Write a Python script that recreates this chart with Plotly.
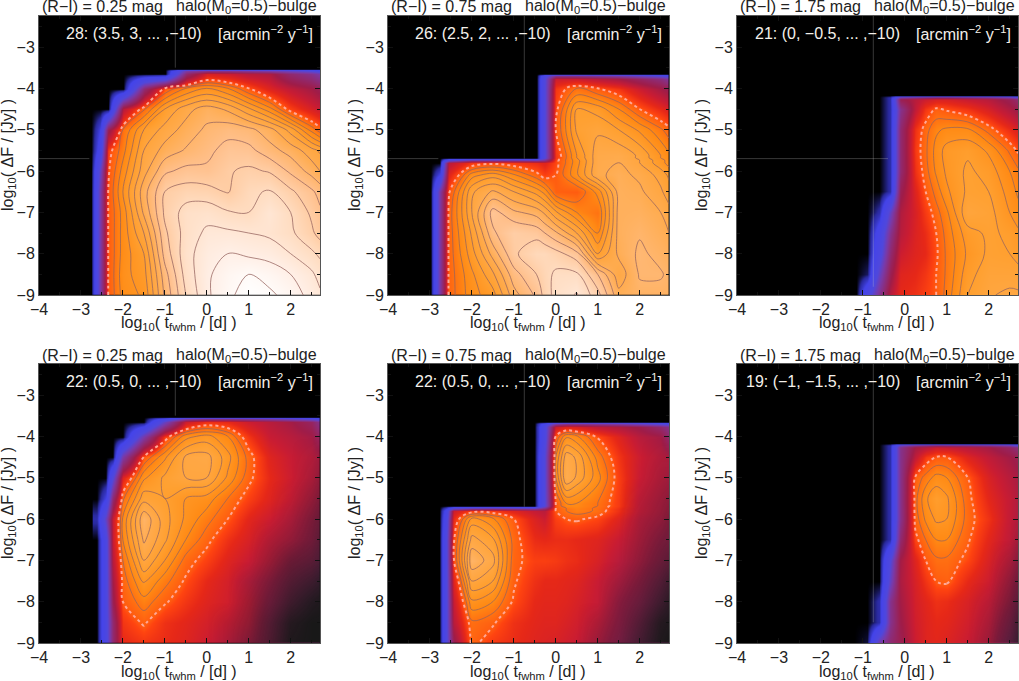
import plotly.graph_objects as go

B = -16  # value used where the map is empty (black)

color_titles = ["(R−I) = 0.25 mag", "(R−I) = 0.75 mag", "(R−I) = 1.75 mag"]
model_title = "halo(M<sub>0</sub>=0.5)−bulge"
level_labels = ["28: (3.5, 3, ... ,−10)", "26: (2.5, 2, ... ,−10)", "21: (0, −0.5, ... ,−10)",
                "22: (0.5, 0, ... ,−10)", "22: (0.5, 0, ... ,−10)", "19: (−1, −1.5, ... ,−10)"]
unit_label = "[arcmin<sup>−2</sup> y<sup>−1</sup>]"
x_label = "log<sub>10</sub>( t<sub>fwhm</sub> / [d] )"
y_label = "log<sub>10</sub>( ΔF / [Jy] )"

p1_x = [-2.75, -2.55, -2.35, -2, -1.5, -1, -0.5, 0, 0.5, 1, 1.5, 2, 2.5, 2.7]
p1_y = [-9, -8.5, -8, -7.5, -7, -6.5, -6, -5.5, -5, -4.5, -4, -3.64, -3.58, -3.52, -3.46]
p1_z = [
    [B, -9, -3, -1.8, -1.4, 0.6, 2.0, 2.9, 3.4, 3.7, 3.6, 3.3, 2.8, 2.6],
    [B, -9, -3, -1.7, -1.2, 0.8, 2.2, 2.9, 3.3, 3.5, 3.3, 3.0, 2.6, 2.3],
    [B, -9, -3, -1.8, -1.0, 1.2, 2.3, 2.8, 3.0, 2.9, 2.8, 2.5, 2.1, 1.9],
    [B, -9, -3, -1.8, -0.5, 1.4, 2.2, 2.6, 2.6, 2.5, 2.4, 2.1, 1.6, 1.3],
    [B, -9, -3, -1.8, 0.1, 1.6, 2.2, 2.3, 2.05, 2.0, 2.5, 2.0, 1.4, 1.1],
    [B, -9, -3, -1.5, 0.3, 1.5, 1.75, 1.7, 1.45, 1.9, 2.05, 1.6, 1.1, 0.8],
    [B, -10, -3.1, -1.8, -0.2, 0.9, 1.15, 1.1, 1.45, 1.6, 1.45, 0.9, 0.3, 0.0],
    [B, -13, -3.3, -2.2, -0.5, 0.2, 0.55, 0.85, 1.2, 1.15, 0.7, 0.3, -0.3, -0.6],
    [B, -14, -6, -2.5, -1.0, -0.3, 0.2, 0.6, 0.8, 0.65, 0.2, -0.7, -2.2, -2.8],
    [B, B, B, -5, -2.6, -1.0, -0.2, 0.25, -0.1, -0.9, -1.8, -3.3, -4.2, -4.6],
    [B, B, B, B, -7, -3.0, -2.0, -1.5, -2.0, -3.0, -4, -4.8, -5.5, -6],
    [B, B, B, B, B, B, -7, -4.2, -4.5, -5, -5.2, -7, -8, -9],
    [B, B, B, B, B, B, -9, -8, -8, -8.5, -9, -10, -11, -12],
    [B, B, B, B, B, B, B, B, B, B, B, B, B, B],
    [B, B, B, B, B, B, B, B, B, B, B, B, B, B],
]

p2_x = [-2.98, -2.78, -2.55, -2, -1.5, -1, -0.46, -0.26, 0, 0.5, 1, 1.5, 2, 2.5, 2.7]
p2_y = [-9, -8.5, -8, -7.5, -7, -6.5, -6.1, -5.8, -5.74, -5.68, -5.62, -5, -4.5, -4, -3.76, -3.7, -3.64, -3.58]
p2_z = [
    [B, -9, -2.8, -1.7, -1.2, 0.3, 1.1, 1.7, 2.2, 2.55, 1.7, 0.15, 0.35, 0.35, 0.3],
    [B, -9, -2.8, -1.6, -0.6, 0.8, 1.5, 1.8, 2.1, 2.1, 1.0, -0.3, 0.55, 0.55, 0.4],
    [B, -9, -2.8, -1.2, 0.2, 1.4, 1.9, 1.9, 1.7, 1.2, -1.0, 0.1, 0.6, 0.35, 0.2],
    [B, -9, -2.8, -0.9, 0.9, 1.5, 1.3, 1.0, 0.6, -0.5, -2.0, 0.2, 0.45, 0.15, 0.0],
    [B, -9, -2.8, -0.5, 1.2, 0.6, 0.3, -0.1, -0.9, -2.0, -2.5, 0.2, 0.25, 0.0, -0.3],
    [B, -9, -3.1, -0.6, 0.1, -0.5, -1.2, -1.7, -2.9, -3.0, -1.8, 0.2, 0.1, -0.4, -0.8],
    [B, -14, -4, -1.7, -1.2, -1.9, -2.8, -3.3, -3.0, -1.6, -0.1, 0.15, -0.1, -0.7, -1.1],
    [B, B, -5, -3.5, -3.2, -3.4, -3.7, -4, -3.2, -1.7, -0.15, 0.0, -0.5, -1.3, -1.7],
    [B, B, -10, -7, -7, -7, -7.5, -7, -3.2, -1.7, -0.15, 0.0, -0.5, -1.3, -1.7],
    [B, B, B, B, B, B, B, -11, -3.5, -1.5, -0.2, -0.1, -0.6, -1.5, -1.9],
    [B, B, B, B, B, B, B, -11, -3.5, -1.5, -0.2, -0.1, -0.6, -1.5, -1.9],
    [B, B, B, B, B, B, B, -11, -3.0, -0.9, -0.6, -1.0, -1.6, -2.4, -2.8],
    [B, B, B, B, B, B, B, -11, -3.2, -1.0, -1.2, -2.0, -3.0, -3.8, -4.2],
    [B, B, B, B, B, B, B, -11, -3.5, -2.5, -3.0, -3.5, -4.5, -5.5, -6],
    [B, B, B, B, B, B, B, -11, -4.5, -4.5, -5, -5.5, -6.5, -7.5, -8.5],
    [B, B, B, B, B, B, B, -12, -8, -8, -8.5, -9, -10, -11, -12],
    [B, B, B, B, B, B, B, B, B, B, B, B, B, B, B],
    [B, B, B, B, B, B, B, B, B, B, B, B, B, B, B],
]

p3_x = [-1.15, -0.9, -0.6, -0.35, -0.1, 0.25, 0.5, 0.75, 1, 1.5, 2, 2.5, 2.7]
p3_y = [-9, -8.5, -8, -7.5, -7, -6.5, -6, -5.5, -5, -4.5, -4.27, -4.22, -4.17, -4.12]
p3_z = [
    [B, -12, -8, -5, -3.8, -3.6, -3.3, -3, -2.3, -1, -0.55, -0.4, -0.4],
    [B, -15.5, -10, -6, -4, -3.8, -3.5, -3, -2.4, -1.2, -0.7, -0.7, -0.8],
    [B, B, -12, -7, -4.5, -4, -3.8, -3.1, -2.4, -1.4, -0.9, -1, -1.2],
    [B, B, -13, -8, -5, -4.1, -3.7, -3, -2.3, -1.2, -0.9, -1.1, -1.4],
    [B, B, -15, -10, -5.2, -4.2, -3.4, -2.7, -2.1, -0.6, -0.8, -1.5, -1.8],
    [B, B, B, -15, -6, -4, -3, -2.3, -1.6, -0.9, -1.0, -1.7, -2.1],
    [B, B, B, -15, -7, -3.6, -2.7, -1.9, -1.4, -0.9, -1.2, -2, -2.4],
    [B, B, B, -15, -7, -3.4, -2.6, -1.8, -1.3, -1.1, -1.6, -2.6, -3.1],
    [B, B, B, -15, -7, -3.6, -2.7, -2.1, -1.9, -1.9, -2.7, -3.7, -4.2],
    [B, B, B, -15, -8, -4.8, -3.5, -2.9, -3.1, -3.5, -4.2, -5.2, -5.8],
    [B, B, B, -15, -6, -5, -4.5, -4.2, -4.2, -4.6, -5, -6, -7],
    [B, B, B, -15, -9, -8, -7.5, -7, -7, -7.5, -8, -9, -11],
    [B, B, B, B, B, B, B, B, B, B, B, B, B],
    [B, B, B, B, B, B, B, B, B, B, B, B, B],
]

p4_x = [-2.62, -2.42, -2.25, -2, -1.5, -1, -0.5, 0, 0.5, 1, 1.5, 2, 2.5, 2.7]
p4_y = [-9, -8.5, -8, -7.5, -7, -6.5, -6, -5.5, -5, -4.5, -4, -3.64, -3.58, -3.52, -3.46]
p4_z = [
    [B, -12, -7, -3.8, -3.5, -3.7, -4, -4.5, -5, -5.4, -6, -6.5, -7, -7],
    [B, -12, -7, -3.5, -2.9, -3.6, -3.9, -4.3, -4.6, -5, -6, -6.5, -7, -7],
    [B, -12, -6, -3, -2.2, -2.9, -3.5, -4, -4.4, -4.8, -5.8, -6.3, -7, -7],
    [B, -12, -5.5, -2.8, -1.4, -2.3, -3.1, -3.8, -4.3, -5, -5.5, -6, -6.5, -7],
    [B, -12, -5, -2.5, -0.5, -1.5, -2.7, -3.3, -4, -4.6, -5, -5.6, -6, -6.5],
    [B, -12, -4.6, -2, 0.1, -0.9, -2, -2.8, -3.6, -4.2, -4.8, -5.2, -5.7, -6],
    [-15, -10, -4.6, -1.9, 0.4, -0.8, -1.6, -2.3, -3, -3.9, -4.5, -5, -5.5, -5.8],
    [B, -14, -7, -2.6, -0.7, -1, -1.5, -1.7, -2.5, -3.3, -4, -4.6, -5.2, -5.5],
    [B, B, -11, -4, -1.6, -0.9, -0.5, -0.5, -1.6, -2.8, -3.8, -4.5, -5, -5.3],
    [B, B, B, -9, -3, -1.6, -0.4, -0.3, -1.3, -2.7, -4, -4.6, -5, -5.3],
    [B, B, B, B, -9, -3.4, -1.7, -1.3, -2, -3.5, -4.6, -5, -5.5, -6.5],
    [B, B, B, B, B, -10, -4.5, -3.6, -3.8, -4.5, -5, -5.5, -6.5, -8],
    [B, B, B, B, B, -13, -9, -8, -8, -8.5, -9, -10, -11, -12],
    [B, B, B, B, B, B, B, B, B, B, B, B, B, B],
    [B, B, B, B, B, B, B, B, B, B, B, B, B, B],
]

p5_x = [-2.78, -2.6, -2.45, -2, -1.5, -1, -0.5, -0.28, 0, 0.25, 0.5, 1, 1.5, 2, 2.5, 2.7]
p5_y = [-9, -8.5, -8, -7.5, -7, -6.5, -6, -5.8, -5.74, -5.68, -5.62, -5, -4.5, -4, -3.76, -3.7, -3.64, -3.58]
p5_z = [
    [B, -11, -6, -2.8, -3.4, -3.7, -4.0, -4.1, -4.2, -4.4, -4.6, -5.2, -6, -6.5, -7, -7],
    [B, -11, -5, -2.6, -2.9, -3.6, -3.9, -4.0, -4.0, -4.2, -4.4, -4.9, -5.7, -6.2, -6.7, -7],
    [B, -11, -4.6, -1.6, -2, -3.1, -3.8, -3.9, -3.9, -4.0, -4.2, -4.7, -5.5, -6, -6.5, -6.7],
    [B, -11, -4, -0.5, -1, -2.9, -3.6, -3.8, -3.8, -3.9, -4, -4.6, -5.2, -5.6, -6.2, -6.4],
    [B, -11, -3.2, 0.4, -0.3, -2.8, -3.3, -3.3, -3.4, -3.6, -3.7, -4.2, -5, -5.3, -5.8, -6],
    [B, -11, -3.2, -0.3, -0.9, -2.7, -3.7, -3.8, -3.7, -3.7, -3.8, -4, -4.6, -5.1, -5.6, -5.8],
    [B, -12, -3.8, -1.3, -1.9, -3.0, -4.1, -4.5, -3.3, -3, -2.9, -3.2, -4, -5, -5.3, -5.5],
    [B, -13, -4.5, -3.4, -3.4, -4, -4.7, -5, -3, -2.5, -2.2, -2.6, -3.6, -4.8, -5.2, -5.4],
    [B, -14, -10, -8, -7.5, -8, -8.5, -7, -3, -2.5, -2.2, -2.6, -3.6, -4.8, -5.2, -5.4],
    [B, B, B, B, B, B, B, -11, -3, -2, -2, -2.5, -3.4, -4.8, -5.2, -5.4],
    [B, B, B, B, B, B, B, -11, -3, -2, -2, -2.5, -3.4, -4.8, -5.2, -5.4],
    [B, B, B, B, B, B, B, -11, -2, 0, -0.6, -1.8, -3.3, -4.6, -5, -5.3],
    [B, B, B, B, B, B, B, -11, -2, -0.2, -0.6, -2.2, -3.5, -4.5, -5, -5.2],
    [B, B, B, B, B, B, B, -12, -3, -1.6, -1.9, -3.1, -4, -5, -5.5, -7],
    [B, B, B, B, B, B, B, -12, -4.5, -4, -4.2, -4.8, -5.2, -5.8, -7, -8],
    [B, B, B, B, B, B, B, -13, -9, -8, -8, -8.5, -9, -10, -11, -12],
    [B, B, B, B, B, B, B, B, B, B, B, B, B, B, B, B],
    [B, B, B, B, B, B, B, B, B, B, B, B, B, B, B, B],
]

p6_x = [-1.2, -0.9, -0.6, -0.35, -0.1, 0.25, 0.5, 0.75, 1, 1.5, 2, 2.5, 2.7]
p6_y = [-9, -8.5, -8, -7.5, -7, -6.5, -6, -5.5, -5, -4.5, -4.27, -4.22, -4.17, -4.12]
p6_z = [
    [B, -15.7, -9, -7, -6, -4.5, -4, -3.9, -4.1, -4.6, -5.2, -6.5, -7],
    [B, B, -15, -8, -5.7, -4.4, -4, -3.8, -3.9, -4.4, -5, -6, -6.5],
    [B, B, -15, -8, -5.5, -4.3, -3.9, -3.6, -3.7, -4.2, -4.8, -5.5, -6.2],
    [B, B, B, -10, -5.3, -4.2, -3.5, -3.0, -2.9, -3.8, -4.5, -5.3, -5.8],
    [B, B, B, -11, -5.5, -4, -3, -2.6, -2.6, -3.2, -4.2, -5, -5.6],
    [B, B, B, -15, -7, -3.2, -2.5, -2, -2, -2.9, -3.9, -4.8, -5.2],
    [B, B, B, -15, -8, -2.8, -1.9, -1.4, -1.5, -2.7, -3.6, -4.7, -5.2],
    [B, B, B, -15, -8, -2.7, -1.6, -1.1, -1.4, -2.8, -3.9, -4.7, -5.2],
    [B, B, B, -15, -8, -2.9, -2.3, -1.8, -2, -3, -4.2, -5, -5.4],
    [B, B, B, -15, -8, -4.8, -3.4, -3.0, -3.0, -4, -4.8, -5.5, -6],
    [B, B, B, -15, -8, -5.5, -5, -4.5, -4.6, -5, -5.5, -6.5, -7.5],
    [B, B, B, -15, -10, -8, -7.5, -7, -7.2, -7.5, -8, -9, -11],
    [B, B, B, B, B, B, B, B, B, B, B, B, B],
    [B, B, B, B, B, B, B, B, B, B, B, B, B],
]

# Dark fade of the lower-right corner in the lower panels
fade_x = [0, 0.5, 1, 1.5, 2, 2.5, 2.7]
fade_y = [-9, -8.5, -8, -7.5, -7, -6.5, -6, -5, -4]
p4_fade = [
    [0, 0.1, 0.3, 0.6, 0.95, 1, 1],
    [0, 0.1, 0.25, 0.55, 0.9, 1, 1],
    [0, 0, 0.2, 0.4, 0.7, 0.9, 0.95],
    [0, 0, 0.1, 0.3, 0.55, 0.7, 0.8],
    [0, 0, 0, 0.2, 0.4, 0.5, 0.6],
    [0, 0, 0, 0.1, 0.2, 0.35, 0.5],
    [0, 0, 0, 0, 0.1, 0.3, 0.4],
    [0, 0, 0, 0, 0, 0.1, 0.2],
    [0, 0, 0, 0, 0, 0, 0],
]
p5_fade = [
    [0, 0, 0.15, 0.3, 0.65, 0.95, 1],
    [0, 0, 0.1, 0.25, 0.55, 0.9, 0.95],
    [0, 0, 0, 0.2, 0.4, 0.7, 0.85],
    [0, 0, 0, 0.1, 0.3, 0.55, 0.7],
    [0, 0, 0, 0, 0.2, 0.4, 0.5],
    [0, 0, 0, 0, 0.15, 0.3, 0.35],
    [0, 0, 0, 0, 0.1, 0.2, 0.3],
    [0, 0, 0, 0, 0, 0.1, 0.1],
    [0, 0, 0, 0, 0, 0, 0],
]
p6_fade = [
    [0, 0, 0, 0, 0.15, 0.5, 0.75],
    [0, 0, 0, 0, 0.1, 0.4, 0.65],
    [0, 0, 0, 0, 0.05, 0.3, 0.5],
    [0, 0, 0, 0, 0, 0.2, 0.35],
    [0, 0, 0, 0, 0, 0.1, 0.2],
    [0, 0, 0, 0, 0, 0, 0.1],
    [0, 0, 0, 0, 0, 0, 0],
    [0, 0, 0, 0, 0, 0, 0],
    [0, 0, 0, 0, 0, 0, 0],
]

# Faint cross-hair segments visible over the black part of each panel
cross_v_bottom = [-3.5, -5.7, -8.8, -3.5, -5.7, -8.5]
cross_h_right = [-2.8, -2.8, -0.4, None, None, None]
cross_x = -0.75
cross_y = -5.7

x_ticks = [-4, -3, -2, -1, 0, 1, 2]
y_ticks = [-9, -8, -7, -6, -5, -4, -3]
x_tick_text = ["−4", "−3", "−2", "−1", "0", "1", "2"]
y_tick_text = ["−9", "−8", "−7", "−6", "−5", "−4", "−3"]

Z_MIN, Z_MAX = -16, 3.7
stops = [(-16, "#000000"), (-15.2, "#2a2aa0"), (-14, "#4444ea"), (-11, "#5048dc"), (-9, "#7a3aa8"),
         (-7, "#902a70"), (-5.6, "#a01c48"), (-4.6, "#c81c34"), (-3.8, "#e62818"), (-3.2, "#ff4410"), (-3, "#ff5c10"),
         (-2, "#ff8a14"), (-1, "#ffa030"), (0, "#ffac50"), (1, "#ffc08c"), (2, "#ffdcc0"),
         (3, "#fff0e8"), (3.7, "#ffffff")]
colorscale = [[(v - Z_MIN) / (Z_MAX - Z_MIN), c] for v, c in stops]

W, H = 1019, 681
PLOT_W, PLOT_H = 281, 279
lefts = [39, 388, 737]
tops = [16, 364]
FONT = "Liberation Sans"
TXT = "#222222"

panels = [
    (p1_x, p1_y, p1_z, None), (p2_x, p2_y, p2_z, None), (p3_x, p3_y, p3_z, None),
    (p4_x, p4_y, p4_z, p4_fade), (p5_x, p5_y, p5_z, p5_fade), (p6_x, p6_y, p6_z, p6_fade),
]

fig = go.Figure()
layout = {}
ann = []


def label(px, py, text, size=16, color=TXT, xanchor="center", angle=0):
    ann.append(dict(x=px / W, y=1 - py / H, xref="paper", yref="paper", text=text, showarrow=False,
                    xanchor=xanchor, yanchor="middle", textangle=angle,
                    font=dict(family=FONT, size=size, color=color)))


for i, (px, py, pz, fade) in enumerate(panels):
    assert all(len(r) == len(px) for r in pz) and len(pz) == len(py), i
    col, row = i % 3, i // 3
    n = i + 1
    xa, ya = ("x", "y") if i == 0 else (f"x{n}", f"y{n}")
    left, top = lefts[col], tops[row]
    fig.add_trace(go.Heatmap(x=px, y=py, z=pz, zsmooth="best", colorscale=colorscale, zmin=Z_MIN, zmax=Z_MAX,
                             showscale=False, xaxis=xa, yaxis=ya, hoverinfo="skip"))
    if fade is not None:
        fig.add_trace(go.Heatmap(x=fade_x, y=fade_y, z=fade, zsmooth="best", zmin=0, zmax=1, showscale=False,
                                 colorscale=[[0, "rgba(24,24,24,0)"], [1, "rgba(24,24,24,1)"]],
                                 xaxis=xa, yaxis=ya, hoverinfo="skip"))
    fig.add_trace(go.Contour(x=px, y=py, z=pz, autocontour=False,
                             contours=dict(start=-2.5, end=3.5, size=0.5, coloring="none"),
                             line=dict(color="rgba(150,100,95,0.85)", width=0.9, smoothing=1),
                             showscale=False, xaxis=xa, yaxis=ya, hoverinfo="skip"))
    fig.add_trace(go.Contour(x=px, y=py, z=pz, autocontour=False,
                             contours=dict(start=-3, end=-3, size=1, coloring="none"),
                             line=dict(color="#ffa898", width=2, dash="dot", smoothing=1),
                             showscale=False, xaxis=xa, yaxis=ya, hoverinfo="skip"))
    fig.add_trace(go.Scatter(x=[cross_x, cross_x], y=[cross_v_bottom[i], -2.25], mode="lines",
                             line=dict(color="rgba(200,200,200,0.28)", width=1),
                             xaxis=xa, yaxis=ya, hoverinfo="skip", showlegend=False))
    if cross_h_right[i] is not None:
        fig.add_trace(go.Scatter(x=[-4, cross_h_right[i]], y=[cross_y, cross_y], mode="lines",
                                 line=dict(color="rgba(200,200,200,0.28)", width=1),
                                 xaxis=xa, yaxis=ya, hoverinfo="skip", showlegend=False))
    common = dict(showgrid=False, zeroline=False, showline=True, mirror="allticks", linecolor="#555555", linewidth=1,
                  ticks="inside", ticklen=5, tickwidth=1, tickcolor="#111111",
                  tickfont=dict(family=FONT, size=16, color=TXT),
                  minor=dict(dtick=0.5, ticks="inside", ticklen=3, tickcolor="#111111", showgrid=False))
    xname = "xaxis" if i == 0 else f"xaxis{n}"
    yname = "yaxis" if i == 0 else f"yaxis{n}"
    layout[xname] = dict(domain=[left / W, (left + PLOT_W) / W], range=[-4, 2.7], anchor=ya,
                         tickvals=x_ticks, ticktext=x_tick_text, **common)
    layout[yname] = dict(domain=[1 - (top + PLOT_H) / H, 1 - top / H], range=[-9, -2.25], anchor=xa,
                         tickvals=y_ticks, ticktext=y_tick_text, **common)
    label(left + 1, top - 9, color_titles[col], xanchor="left")
    label(left + 280, top - 9, model_title, xanchor="right")
    label(left + 165, top + 17, level_labels[i], size=16, color="#f4f0ea", xanchor="right")
    label(left + 276, top + 17, unit_label, size=16, color="#f4f0ea", xanchor="right")
    label(left + 140, top + 308, x_label)
    label(left - 31 - 2 * col, top + 139, y_label, angle=-90)

fig.update_layout(width=W, height=H, margin=dict(l=0, r=0, t=0, b=0, autoexpand=False), paper_bgcolor="white",
                  plot_bgcolor="black", showlegend=False, annotations=ann, **layout)
fig.write_html("out.html", config=dict(displayModeBar=False),
               post_script="document.body.style.margin='0';document.documentElement.style.overflow='hidden';")
